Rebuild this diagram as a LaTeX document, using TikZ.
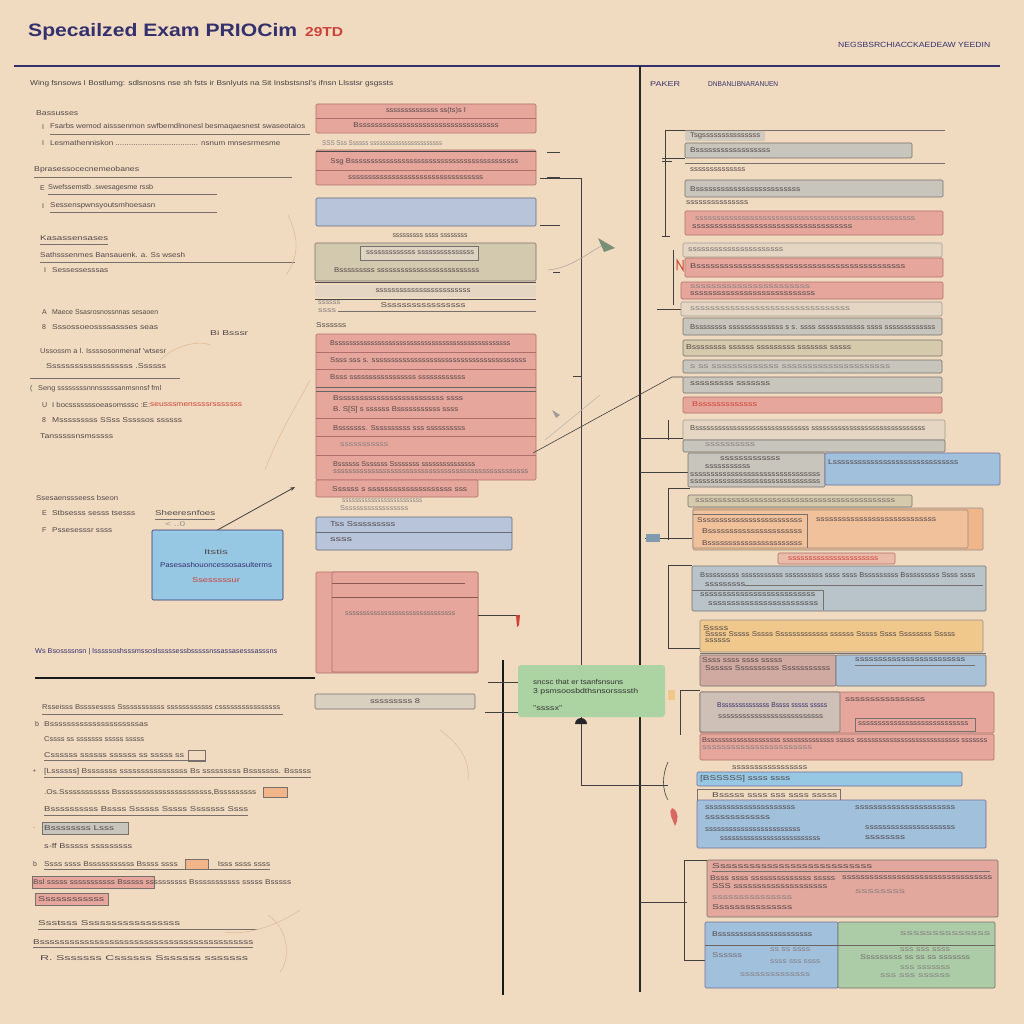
\documentclass[tikz,border=0pt]{standalone}
\usepackage{fontspec}
\setmainfont{Liberation Sans}
\newfontfamily\ttlfont{Liberation Sans}
\usepackage{graphicx}
\usetikzlibrary{arrows.meta}
\definecolor{bg}{RGB}{240,219,192}
\definecolor{navy}{RGB}{52,48,110}
\definecolor{txt}{RGB}{82,72,74}
\definecolor{redt}{RGB}{205,65,55}
\definecolor{pinkf}{RGB}{231,166,156}
\definecolor{pinkd}{RGB}{175,110,105}
\definecolor{bluef}{RGB}{184,196,218}
\definecolor{blue2}{RGB}{150,200,228}
\definecolor{blue3}{RGB}{160,192,220}
\definecolor{grayf}{RGB}{200,198,188}
\definecolor{grayd}{RGB}{120,112,108}
\definecolor{lightf}{RGB}{228,214,194}
\definecolor{tanf}{RGB}{214,202,172}
\definecolor{orangef}{RGB}{240,182,138}
\definecolor{yellowf}{RGB}{240,200,140}
\definecolor{greenf}{RGB}{172,212,162}
\definecolor{green2}{RGB}{172,204,168}
\definecolor{brownf}{RGB}{208,170,160}
\definecolor{faint}{RGB}{226,188,150}
\newcommand\txn[2]{\resizebox{#1pt}{\height}{#2}}
\newcommand\bxn[6]{\node[#2, minimum width={(#5)-(#3)}, minimum height={(#6)-(#4)}, anchor=north west] (#1) at (#3,#4) {};}
\tikzset{
 lbl/.style={anchor=west, inner sep=0pt, font=\fontsize{7}{8}\selectfont, text=txt},
 lblc/.style={lbl, anchor=center},
 nv/.style={text=navy},
 rd/.style={text=redt},
 bbase/.style={line width=0.6pt, rounded corners=1.2pt, inner sep=0pt, outer sep=0pt},
 bpink/.style={bbase, draw=pinkd, fill=pinkf},
 bblue/.style={bbase, draw=bluef!55!black, fill=bluef},
 bblue2/.style={bbase, draw=navy!70, fill=blue2},
 bblue3/.style={bbase, draw=navy!70, fill=blue3},
 bgray/.style={bbase, draw=grayd, fill=grayf},
 blight/.style={bbase, draw=grayd!70, fill=lightf},
 btan/.style={bbase, draw=grayd, fill=tanf},
 borange/.style={bbase, draw=grayd!80, fill=orangef},
 byellow/.style={bbase, draw=grayd!80, fill=yellowf},
 bgreen/.style={bbase, draw=none, fill=greenf, rounded corners=3pt},
 bgreen2/.style={bbase, draw=grayd, fill=green2},
 bbrown/.style={bbase, draw=grayd, fill=brownf},
 ln/.style={line width=0.5pt, draw=grayd},
 rulen/.style={line width=1.6pt, draw=navy},
 blk/.style={line width=1.3pt, draw=black!85},
 thin/.style={line width=0.6pt, draw=black!75},
 faintc/.style={draw=faint, line width=0.6pt},
}
\begin{document}
\begin{tikzpicture}[x=1pt,y=-1pt]
\fill[bg] (0,0) rectangle (1024,1024);
\useasboundingbox (0,0) rectangle (1024,1024);

% ---------- header ----------
\node[anchor=west, inner sep=0pt, text=navy, font=\ttlfont\fontsize{18}{20}\selectfont\bfseries] (title) at (28,32) {\txn{269}{Specailzed Exam PRIOCim}};
\node[anchor=west, inner sep=0pt, text=redt, font=\ttlfont\fontsize{13}{15}\selectfont\bfseries] (year) at (305,32) {\txn{38}{29TD}};
\node[lbl, nv, font=\fontsize{7.5}{8}\selectfont] (topr) at (838,45) {\txn{152}{NEGSBSRCHIACCKAEDEAW YEEDIN}};
\coordinate (ruleL) at (14,66);
\coordinate (ruleR) at (1000,66);
\draw[rulen] (ruleL) -- (ruleR);
\node[lbl, text=black!75] (sub) at (30,84) {\txn{363}{Wing fsnsows I Bostlumg: sdlsnosns nse sh fsts ir Bsnlyuts na Sit Insbstsnsl's ifnsn Llsstsr gsgssts}};
\node[lbl, nv] (paker) at (650,84) {\txn{30}{PAKER}};
\node[lbl, nv] (dnb) at (708,84) {\txn{70}{DNBANLIBNARANUEN}};

% ---------- main vertical lines ----------
\coordinate (v1t) at (640,66);
\coordinate (v1b) at (640,992);
\draw[blk] (v1t) -- (v1b);

% ---------- left column ----------
\node[lbl] (l1) at (36,113) {\txn{42}{Bassusses}};
\node[lbl] (l2b) at (42,127) {I};
\node[lbl] (l2) at (50,127) {\txn{255}{Fsarbs wemod aisssenmon swfbemdlnonesl besmaqaesnest swaseotaios}};
\draw[ln] (50,134) -- (310,134);
\node[lbl] (l3b) at (42,143) {I};
\node[lbl] (l3) at (50,143) {\txn{230}{Lesmathenniskon ..................................... nsnum mnsesrmesme}};
\node[lbl] (l4) at (34,170) {\txn{105}{Bprasessocecnemeobanes}};
\draw[ln] (34,177) -- (292,177);
\node[lbl] (l5b) at (40,188) {E};
\node[lbl] (l5) at (48,188) {\txn{105}{Swefssemstb .swesagesme rssb}};
\draw[ln] (48,194) -- (217,194);
\node[lbl] (l6b) at (42,206) {I};
\node[lbl] (l6) at (50,206) {\txn{105}{Sessenspwnsyoutsmhoesasn}};
\draw[ln] (50,212) -- (217,212);
\node[lbl] (l7) at (40,238) {\txn{68}{Kasassensases}};
\draw[ln] (40,244) -- (108,244);
\node[lbl] (l8) at (40,255) {\txn{145}{Sathsssenmes Bansauenk. a. Ss wsesh}};
\draw[ln] (40,262) -- (295,262);
\node[lbl] (l9b) at (44,270) {I};
\node[lbl] (l9) at (52,270) {\txn{56}{Sessessesssas}};
\node[lbl] (l10b) at (42,312) {A};
\node[lbl] (l10) at (52,312) {\txn{106}{Maece Ssasrosnossnnas sesaoen}};
\node[lbl] (l11b) at (42,327) {8};
\node[lbl] (l11) at (52,327) {\txn{106}{Sssossoeossssassses seas}};
\node[lbl] (l21) at (210,333) {\txn{38}{Bi Bsssr}};
\node[lbl] (l12) at (40,351) {\txn{126}{Ussossm a l. Issssosonmenaf 'wtsesr}};
\node[lbl] (l13) at (46,366) {\txn{120}{Sssssssssssssssssss .Ssssss}};
\draw[ln] (30,378) -- (180,378);
\node[lbl] (l14b) at (30,389) {(};
\node[lbl] (l14) at (38,389) {\txn{123}{Seng ssssssssnnnsssssanmsnnsf fml}};
\node[lbl] (l15b) at (42,405) {U};
\node[lbl] (l15) at (52,405) {\txn{98}{I bocsssssssoeasomsssc :E:}};
\node[lbl, rd] (l15r) at (150,405) {\txn{92}{seusssmenssssrsssssss}};
\node[lbl] (l16b) at (42,420) {8};
\node[lbl] (l16) at (52,420) {\txn{130}{Msssssssss SSss Sssssos ssssss}};
\node[lbl] (l17) at (40,436) {\txn{73}{Tansssssnsmsssss}};
\node[lbl] (l18) at (36,498) {\txn{82}{Ssesaenssseess bseon}};
\node[lbl] (l19b) at (42,513) {E};
\node[lbl] (l19) at (52,513) {\txn{83}{Stbsesss sesss tsesss}};
\node[lbl] (l19r) at (155,513) {\txn{60}{Sheeresnfoes}};
\draw[ln] (155,519) -- (215,519);
\node[lbl] (l20b) at (42,530) {F};
\node[lbl] (l20) at (52,530) {\txn{60}{Pssesesssr ssss}};
\node[lbl, text=txt!60] (l20s) at (165,524) {\txn{20}{{<} ..0}};

% blue note box
\bxn{note}{bblue2, draw=navy}{152}{530}{283}{600}
\node[lblc] (n1) at (216,552) {\txn{24}{Itstis}};
\node[lblc, nv] (n2) at (216,565) {\txn{112}{Pasesashouoncessosasulterms}};
\node[lblc, rd] (n3) at (216,580) {\txn{48}{Ssesssssur}};
\coordinate (notetip) at (295,487);
\draw[thin, line width=0.8pt, -{Stealth[length=5pt]}] (note.north) -- (notetip);

\node[lbl, nv] (l22) at (35,652) {\txn{242}{Ws Bsossssnsn | lsssssoshsssmssoslsssssessbsssssnssassasesssasssns}};
\coordinate (hbL) at (35,678);
\coordinate (hbR) at (315,678);
\draw[line width=2.4pt, black!90] (hbL) -- (hbR);

% lower left
\node[lbl] (m1) at (42,707) {\txn{238}{Rsseisss Bssssessss Ssssssssssss ssssssssssss cssssssssssssssss}};
\draw[ln] (42,714) -- (283,714);
\node[lbl] (m2b) at (35,724) {b};
\node[lbl] (m2) at (44,724) {\txn{104}{Bsssssssssssssssssssssas}};
\node[lbl] (m3) at (44,739) {\txn{100}{Cssss ss sssssss sssss sssss}};
\node[lbl] (m4) at (44,755) {\txn{140}{Cssssss ssssss ssssss ss sssss ss}};
\draw[ln] (44,760) -- (205,760);
\draw[ln] (188,750) rectangle (205,761);
\node[lbl] (m5b) at (33,772) {*};
\node[lbl] (m5) at (44,772) {\txn{267}{[Lssssss] Bsssssss ssssssssssssssss Bs sssssssss Bsssssss. Bsssss}};
\draw[ln] (44,777) -- (311,777);
\node[lbl] (m6) at (44,792) {\txn{212}{.Os.Ssssssssssss Bsssssssssssssssssssssss,Bsssssssss}};
\draw[ln, fill=orangef] (263,787) rectangle (287,797);
\node[lbl] (m7) at (44,809) {\txn{204}{Bssssssssss Bssss Ssssss Sssss Sssssss Ssss}};
\draw[ln] (44,815) -- (248,815);
\node[lbl] (m8b) at (33,828) {.};
\draw[ln, fill=grayf] (42,822) rectangle (128,834);
\node[lbl] (m8) at (44,828) {\txn{70}{Bssssssss Lsss}};
\node[lbl] (m9) at (44,846) {\txn{88}{s-ff Bsssss sssssssss}};
\node[lbl] (m10b) at (33,864) {b};
\draw[ln, fill=orangef] (185,859) rectangle (208,869);
\node[lbl] (m10) at (44,864) {\txn{226}{Ssss ssss Bsssssssssss Bssss ssss \hspace{30pt} Isss ssss ssss}};
\draw[ln] (44,869) -- (270,869);
\draw[ln, fill=pinkf] (32,876) rectangle (154,888);
\node[lbl] (m11) at (33,882) {\txn{258}{Bsl sssss sssssssssss Bsssss ssssssssss Bsssssssssss sssss Bsssss}};
\draw[ln, fill=pinkf] (35,893) rectangle (108,905);
\node[lbl] (m12) at (38,899) {\txn{66}{Ssssssssssss}};
\node[lbl] (m13) at (38,923) {\txn{142}{Ssstsss Sssssssssssssssss}};
\draw[ln] (38,929) -- (258,929);
\node[lbl] (m14) at (33,942) {\txn{220}{Bsssssssssssssssssssssssssssssssssssssssssss}};
\draw[ln] (33,947) -- (253,947);
\node[lbl] (m15) at (40,958) {\txn{208}{R. Sssssss Cssssss Sssssss sssssss}};

% faint curves
\draw[faintc] (288,215) .. controls (300,240) and (298,258) .. (286,275);
\draw[faintc] (265,470) .. controls (280,430) and (300,400) .. (310,380);
\draw[faintc] (300,910) .. controls (270,930) and (240,935) .. (225,932);
\draw[faintc] (268,915) .. controls (290,930) and (290,960) .. (280,972);
\draw[faintc] (440,730) .. controls (460,745) and (470,760) .. (468,780);
\draw[faintc] (160,360) .. controls (175,345) and (200,340) .. (210,345);

% ---------- middle column ----------
\bxn{b1}{bpink}{316}{104}{536}{133}
\draw[pinkd, line width=0.5pt] (316,118) -- (536,118);
\node[lblc] (b1a) at (426,111) {\txn{80}{ssssssssssssss ss(ts)s I}};
\node[lblc] (b1b) at (426,125) {\txn{145}{Bsssssssssssssssssssssssssssssssssss}};
\node[lbl, text=txt!70] (b1c) at (322,143) {\txn{120}{SSS Sss Ssssss sssssssssssssssssssssss}};
\bxn{b2}{bpink}{316}{150}{536}{185}
\draw[black!70, line width=0.8pt] (316,151) -- (536,151);
\draw[pinkd, line width=0.5pt] (316,170) -- (536,170);
\node[lbl] (b2a) at (328,162) {\txn{190}{~Ssg Bsssssssssssssssssssssssssssssssssssssssssss}};
\node[lbl] (b2b) at (348,178) {\txn{135}{ssssssssssssssssssssssssssssssssss}};
\bxn{b3}{bblue}{316}{198}{536}{226}
\node[lblc] (b3a) at (430,236) {\txn{75}{sssssssss ssss ssssssss}};
\bxn{b4}{bgray, fill=tanf!80!grayf}{315}{243}{536}{281}
\draw[ln, fill=lightf!80!grayf] (360,246) rectangle (478,260);
\node[lbl] (b4a) at (366,253) {\txn{108}{sssssssssssss sssssssssssssss}};
\node[lbl] (b4b) at (334,270) {\txn{145}{Bsssssssss ssssssssssssssssssssssssss}};
\draw[black!70, line width=0.8pt] (315,282) -- (536,282);
\bxn{b5}{blight, draw=none}{315}{285}{536}{297}
\node[lblc] (b5a) at (423,291) {\txn{95}{ssssssssssssssssssssssss}};
\draw[black!70, line width=0.6pt] (315,299) -- (536,299);
\node[lbl, text=txt!70] (b5b) at (318,303) {\txn{22}{ssssss}};
\node[lbl, text=txt!70] (b5c) at (318,311) {\txn{18}{ssss}};
\node[lblc] (b5d) at (423,305) {\txn{85}{Sssssssssssssssss}};
\draw[ln] (338,311) -- (536,311);
\node[lbl] (b5e) at (316,325) {\txn{30}{Sssssss}};
% pink stack
\bxn{b6}{bpink}{316}{334}{536}{480}
\bxn{b7}{bpink}{316}{480}{478}{497}
\foreach \yy in {352,369,418,436,455} {\draw[pinkd, line width=0.5pt] (316,\yy) -- (536,\yy);}
\draw[black!60, line width=0.7pt] (316,387) -- (536,387);
\draw[black!60, line width=0.7pt] (316,391) -- (536,391);
\node[lbl] (b6a) at (330,343) {\txn{180}{Bsssssssssssssssssssssssssssssssssssssssssssssssss}};
\node[lbl] (b6b) at (330,360) {\txn{196}{Ssss sss s. ssssssssssssssssssssssssssssssssssssssss}};
\node[lbl] (b6c) at (330,377) {\txn{135}{Bsss sssssssssssssssss ssssssssssss}};
\node[lbl] (b6d) at (333,398) {\txn{130}{Bsssssssssssssssssssssssss ssss}};
\node[lbl] (b6e) at (333,410) {\txn{125}{B. S[S] s ssssss Bsssssssssss ssss}};
\node[lbl] (b6f) at (333,428) {\txn{132}{Bsssssss. Ssssssssss sss ssssssssss}};
\node[lbl, text=txt!70] (b6g) at (340,445) {\txn{48}{sssssssssss}};
\node[lbl] (b6h) at (333,464) {\txn{142}{Bssssss Sssssss Ssssssss sssssssssssssss}};
\node[lbl, text=txt!80] (b6i) at (333,472) {\txn{195}{sssssssssssssssssssssssssssssssssssssssssssssssssss}};
\node[lbl] (b7a) at (332,489) {\txn{135}{Ssssss s ssssssssssssssssssss sss}};
\node[lbl, text=txt!70] (b7b) at (342,501) {\txn{80}{sssssssssssssssssssssssss}};
\node[lbl, text=txt!70] (b7c) at (340,508) {\txn{68}{Ssssssssssssssssss}};
\bxn{b8}{bblue}{316}{517}{512}{550}
\draw[bluef!55!black, line width=0.5pt] (316,532) -- (512,532);
\node[lbl] (b8a) at (330,524) {\txn{65}{Tss Ssssssssss}};
\node[lbl] (b8b) at (330,540) {\txn{22}{ssss}};
\bxn{b9}{bpink}{316}{572}{478}{673}
\bxn{b9i}{bpink}{332}{572}{478}{672}
\draw[pinkd!80!black, line width=0.6pt] (332,583) -- (465,583);
\draw[pinkd!80!black, line width=0.6pt] (332,597) -- (478,597);
\node[lbl, text=txt!80] (b9a) at (345,614) {\txn{110}{sssssssssssssssssssssssssssssss}};
\coordinate (redc) at (518,615);
\draw[thin] (b9i.east |- redc) -- (redc);
\fill[redt] (516,615) -- (520,615) -- (519,625) -- (517,627) -- cycle;
\bxn{b10}{bgray, fill=lightf!60!grayf}{315}{694}{475}{709}
\node[lblc] (b10a) at (395,701) {\txn{50}{sssssssss 8}};

% middle connector lines
\coordinate (v2t) at (581,178);
\coordinate (v2b) at (581,785);
\draw[thin, line width=0.9pt] (540,178) -- (v2t) -- (581,665);
\draw[thin, line width=0.9pt] (581,717) -- (v2b) -- (665,785);
\draw[thin] (547,152) -- (560,152);
\draw[thin] (547,177) -- (560,177);
\draw[thin] (540,225) -- (560,225);
\draw[thin] (553,272) -- (560,272);
\draw[thin] (573,376) -- (581,376);
\coordinate (dgA) at (533,453);
\coordinate (dgB) at (672,377);
\coordinate (dgC) at (683,377);
\draw[thin] (dgA) -- (dgB) -- (dgC);
\draw[faintc, draw=grayd!60] (548,270) .. controls (570,268) and (585,255) .. (603,245);
\fill[green2!70!black] (598,238) -- (615,248) -- (604,252) -- cycle;
\draw[faintc, draw=grayd!50] (545,440) -- (600,395);
\fill[grayd!70] (552,410) -- (560,415) -- (556,418) -- cycle;

% green box
\bxn{gb}{bgreen}{518}{665}{665}{717}
\node[lbl, text=black!80] (g1) at (533,682) {\txn{90}{sncsc that er tsanfsnsuns}};
\node[lbl, text=black!80] (g2) at (533,692) {\txn{105}{3 psmsoosbdthsnsorssssth}};
\node[lbl, text=black!80] (g3) at (533,708) {\txn{29}{"ssssx"}};
\fill[black!85] (575,724) arc (180:360:6 and 6) -- cycle;
\coordinate (v3t) at (503,660);
\coordinate (v3b) at (503,995);
\draw[line width=2pt, black!90] (v3t) -- (v3b);
\draw[thin, line width=0.9pt] (488,682) -- (gb.west |- 0,682);
\draw[thin, line width=0.9pt] (485,712) -- (gb.west |- 0,712);

% ---------- right column ----------
\draw[ln] (685,130) -- (945,130);
\draw[thin] (665,130) -- (685,130);
\draw[thin] (665,130) -- (665,236);
\draw[thin] (662,236) -- (670,236);
\draw[thin] (662,158) -- (685,158);
\draw[thin] (662,161) -- (672,161);
\bxn{r1}{blight, draw=none, fill=grayf!70!lightf}{685}{131}{765}{141}
\node[lbl] (r1a) at (690,136) {\txn{70}{Tsgsssssssssssssss}};
\bxn{r2}{bgray}{685}{143}{912}{158}
\node[lbl] (r2a) at (690,150) {\txn{80}{Bssssssssssssssssss}};
\draw[ln] (685,163) -- (945,163);
\node[lbl] (r3a) at (690,170) {\txn{55}{ssssssssssssss}};
\bxn{r4}{bgray}{685}{180}{943}{197}
\node[lbl] (r4a) at (690,189) {\txn{110}{Bsssssssssssssssssssssssss}};
\node[lbl] (r5a) at (686,203) {\txn{62}{sssssssssssssss}};
\bxn{r6}{bpink}{685}{211}{943}{235}
\node[lbl, text=txt!70] (r6a) at (695,219) {\txn{220}{ssssssssssssssssssssssssssssssssssssssssssssssssssss}};
\node[lbl] (r6b) at (692,227) {\txn{160}{ssssssssssssssssssssssssssssssssssss}};
\draw[thin] (673,250) -- (673,305);
\draw[redt, line width=1pt] (677,270) -- (677,260) -- (683,270) -- (683,260);
\bxn{r7}{blight}{683}{243}{942}{257}
\node[lbl, text=txt!80] (r7a) at (688,250) {\txn{95}{ssssssssssssssssssssss}};
\bxn{r8}{bpink}{685}{258}{943}{277}
\node[lbl] (r8a) at (690,266) {\txn{215}{Bsssssssssssssssssssssssssssssssssssssssssssss}};
\bxn{r9}{bpink}{681}{282}{943}{299}
\node[lbl, text=txt!70] (r9a) at (690,287) {\txn{120}{sssssssssssssssssssssss}};
\node[lbl] (r9b) at (690,294) {\txn{125}{ssssssssssssssssssssssssssss}};
\draw[thin] (657,309) -- (683,309);
\bxn{r10}{blight}{681}{302}{942}{316}
\node[lbl, text=txt!70] (r10a) at (690,309) {\txn{160}{ssssssssssssssssssssssssssssssss}};
\bxn{r11}{bgray}{683}{318}{942}{335}
\node[lbl] (r11a) at (690,327) {\txn{245}{Bssssssss ssssssssssssss s s. ssss ssssssssssss ssss sssssssssssss}};
\bxn{r12}{btan}{683}{340}{942}{356}
\node[lbl] (r12a) at (686,347) {\txn{165}{Bssssssss ssssss sssssssss sssssss sssss}};
\bxn{r13}{bgray}{683}{360}{942}{373}
\node[lbl, text=txt!70] (r13a) at (690,367) {\txn{200}{s  ss sssssssssssss sssssssssssssssssssss}};
\bxn{r14}{bgray}{683}{377}{942}{393}
\node[lbl] (r14a) at (690,384) {\txn{80}{sssssssss sssssss}};
\bxn{r15}{bpink}{683}{397}{942}{413}
\node[lbl, rd] (r15a) at (692,404) {\txn{65}{Bsssssssssssss}};
\bxn{r16}{blight}{683}{420}{945}{440}
\node[lbl] (r16a) at (690,428) {\txn{235}{Bssssssssssssssssssssssssssssss ssssssssssssssssssssssssssssss}};
\bxn{r17}{bgray}{683}{440}{945}{452}
\node[lbl, text=txt!70] (r17a) at (705,445) {\txn{50}{ssssssssss}};
\draw[thin] (640,438) -- (683,438);
\draw[thin] (668,420) -- (668,440);
\draw[thin] (640,472) -- (688,472);
\bxn{r18a}{bgray}{688}{453}{825}{487}
\bxn{r18b}{bblue3}{825}{453}{1000}{485}
\node[lbl] (r18c) at (720,459) {\txn{60}{sssssssssssss}};
\node[lbl] (r18d) at (705,467) {\txn{45}{sssssssssss}};
\node[lbl] (r18e) at (690,475) {\txn{130}{ssssssssssssssssssssssssssssssss}};
\node[lbl] (r18f) at (690,482) {\txn{130}{ssssssssssssssssssssssssssssssss}};
\node[lbl] (r18g) at (828,462) {\txn{130}{Lssssssssssssssssssssssssssssss}};
\draw[thin] (668,488) -- (668,540);
\draw[thin] (668,488) -- (690,488);
\draw[thin] (645,538) -- (692,538);
\fill[blue3!80!black] (646,534) rectangle (660,542);
\bxn{r19}{btan}{688}{495}{912}{507}
\node[lbl, text=txt!80] (r19a) at (695,501) {\txn{200}{ssssssssssssssssssssssssssssssssssssssssssss}};
\bxn{r20}{borange}{693}{508}{983}{550}
\bxn{r20i}{borange, fill=orangef!70!bg}{693}{510}{968}{548}
\draw[ln] (693,514) -- (807,514) -- (807,548);
\node[lbl] (r20a) at (697,520) {\txn{105}{Sssssssssssssssssssssssss}};
\node[lbl] (r20b) at (816,520) {\txn{120}{ssssssssssssssssssssssssssss}};
\node[lbl] (r20c) at (702,531) {\txn{100}{Bssssssssssssssssssssss}};
\node[lbl] (r20d) at (702,543) {\txn{100}{Bsssssssssssssssssssssss}};
\bxn{r21}{bpink, fill=pinkf!60!bg}{778}{553}{895}{564}
\node[lbl, rd] (r21a) at (788,559) {\txn{90}{ssssssssssssssssssssss}};
\draw[thin] (668,565) -- (692,565);
\draw[thin] (668,565) -- (668,648);
\draw[thin] (668,648) -- (700,648);
\bxn{r22}{bgray, fill=grayf!60!blue3}{692}{566}{986}{611}
\draw[ln] (692,590) -- (823,590) -- (823,610);
\node[lbl] (r22a) at (700,575) {\txn{275}{Bsssssssss sssssssssss ssssssssss ssss ssss Bsssssssss Bsssssssss Ssss ssss}};
\node[lbl] (r22b) at (705,585) {\txn{40}{sssssssss}};
\draw[ln] (745,585) -- (983,585);
\node[lbl] (r22c) at (700,595) {\txn{115}{ssssssssssssssssssssssssss}};
\node[lbl] (r22d) at (708,604) {\txn{110}{ssssssssssssssssssssssss}};
\bxn{r23}{byellow}{700}{620}{983}{652}
\node[lbl] (r23a) at (703,628) {\txn{25}{Sssss}};
\node[lbl] (r23b) at (705,634) {\txn{250}{Sssss Sssss Sssss Sssssssssssss ssssss Sssss Ssss Ssssssss Sssss}};
\node[lbl] (r23c) at (705,641) {\txn{25}{ssssss}};
\draw[ln] (700,653) -- (986,653);
\bxn{r24a}{bbrown}{700}{655}{836}{686}
\bxn{r24b}{bblue3, fill=blue3!80!grayf, draw=grayd}{836}{655}{986}{686}
\node[lbl] (r24c) at (702,660) {\txn{80}{Ssss ssss ssss sssss}};
\node[lbl] (r24d) at (705,668) {\txn{125}{Ssssss Ssssssssss Sssssssssss}};
\node[lbl] (r24e) at (855,660) {\txn{110}{ssssssssssssssssssssssss}};
\draw[ln] (855,665) -- (975,665);
\fill[yellowf] (668,690) rectangle (675,700);
\draw[thin] (680,690) -- (700,690);
\draw[thin] (680,690) -- (680,735);
\bxn{r25}{bpink}{700}{692}{994}{733}
\bxn{r25i}{bgray, fill=grayf!80!pinkf}{700}{692}{840}{732}
\draw[ln] (855,718) rectangle (975,731);
\node[lbl, nv] (r25a) at (717,705) {\txn{110}{Bssssssssssssss Bssss sssss sssss}};
\node[lbl] (r25b) at (718,717) {\txn{105}{ssssssssssssssssssssssssss}};
\node[lbl] (r25c) at (845,700) {\txn{80}{ssssssssssssssss}};
\node[lbl] (r25d) at (858,724) {\txn{110}{ssssssssssssssssssssssssssss}};
\bxn{r26}{bpink}{700}{734}{994}{760}
\node[lbl] (r26a) at (702,740) {\txn{285}{Bssssssssssssssssssss ssssssssssssss sssss ssssssssssssssssssssssssssss sssssss}};
\node[lbl, text=txt!70] (r26b) at (702,748) {\txn{110}{sssssssssssssssssssssss}};
\node[lbl] (r26c) at (732,768) {\txn{75}{sssssssssssssssss}};
\draw[ln] (732,773) -- (807,773);
\draw[thin] (668,762) .. controls (662,775) and (662,790) .. (668,800);
\draw[thin, line width=1pt] (640,785) -- (668,785);
\fill[redt!80] (672,808) .. controls (680,812) and (678,820) .. (675,826) .. controls (672,818) and (668,812) .. (672,808);
\bxn{r27}{bblue2}{697}{772}{962}{786}
\node[lbl] (r27a) at (700,779) {\txn{90}{[BSSSSS] ssss  ssss}};
\draw[ln] (697,789) rectangle (840,800);
\node[lbl] (r27b) at (712,795) {\txn{125}{Bsssss ssss sss ssss sssss}};
\bxn{r28}{bblue3}{697}{800}{986}{848}
\node[lbl] (r28a) at (705,808) {\txn{90}{sssssssssssssssssssss}};
\node[lbl] (r28b) at (855,808) {\txn{100}{ssssssssssssssssssssss}};
\node[lbl] (r28c) at (705,818) {\txn{65}{sssssssssssss}};
\node[lbl] (r28d) at (705,830) {\txn{95}{ssssssssssssssssssssssss}};
\node[lbl] (r28e) at (720,839) {\txn{100}{ssssssssssssssssssssssssss}};
\node[lbl] (r28f) at (865,828) {\txn{90}{sssssssssssssssssssss}};
\node[lbl] (r28g) at (865,838) {\txn{40}{ssssssss}};
\draw[thin] (684,860) -- (684,960);
\draw[thin] (684,860) -- (707,860);
\draw[thin] (684,960) -- (705,960);
\draw[thin, line width=1pt] (640,902) -- (687,902);
\bxn{r29}{bbrown, fill=pinkf!80!brownf}{707}{860}{998}{917}
\node[lbl] (r29a) at (712,866) {\txn{160}{Sssssssssssssssssssssssssss}};
\draw[ln] (712,871) -- (990,871);
\node[lbl] (r29b) at (710,878) {\txn{125}{Bsss ssss ssssssssssssss sssss}};
\node[lbl] (r29c) at (842,878) {\txn{150}{sssssssssssssssssssssssssssssssss}};
\node[lbl] (r29d) at (712,886) {\txn{115}{SSS ssssssssssssssssssss}};
\node[lbl, text=txt!70] (r29e) at (712,898) {\txn{80}{sssssssssssssss}};
\node[lbl] (r29f) at (712,907) {\txn{80}{Sssssssssssssss}};
\node[lbl, text=txt!70] (r29g) at (855,892) {\txn{50}{ssssssss}};
\bxn{r30a}{bblue3}{705}{922}{838}{988}
\bxn{r30b}{bgreen2}{838}{922}{995}{988}
\draw[grayd!90!black, line width=0.6pt] (705,945) -- (995,945);
\node[lbl] (r30c) at (712,934) {\txn{100}{Bssssssssssssssssssssss}};
\node[lbl, text=txt!80] (r30d) at (712,955) {\txn{30}{Ssssss}};
\node[lbl, text=txt!70] (r30e) at (770,950) {\txn{40}{ss ss ssss}};
\node[lbl, text=txt!70] (r30f) at (770,962) {\txn{50}{ssss sss ssss}};
\node[lbl, text=txt!70] (r30g) at (740,975) {\txn{70}{ssssssssssssss}};
\node[lbl, text=txt!80] (r30h) at (860,957) {\txn{110}{Sssssssss ss ss ss sssssss}};
\node[lbl, text=txt!70] (r30i) at (900,950) {\txn{50}{sss sss ssss}};
\node[lbl, text=txt!70] (r30j) at (900,968) {\txn{50}{sss sssssss}};
\node[lbl, text=txt!70] (r30k) at (880,976) {\txn{70}{sss sss ssssss}};
\node[lbl, text=txt!70] (r30l) at (900,934) {\txn{90}{ssssssssssssss}};
\end{tikzpicture}
\end{document}
